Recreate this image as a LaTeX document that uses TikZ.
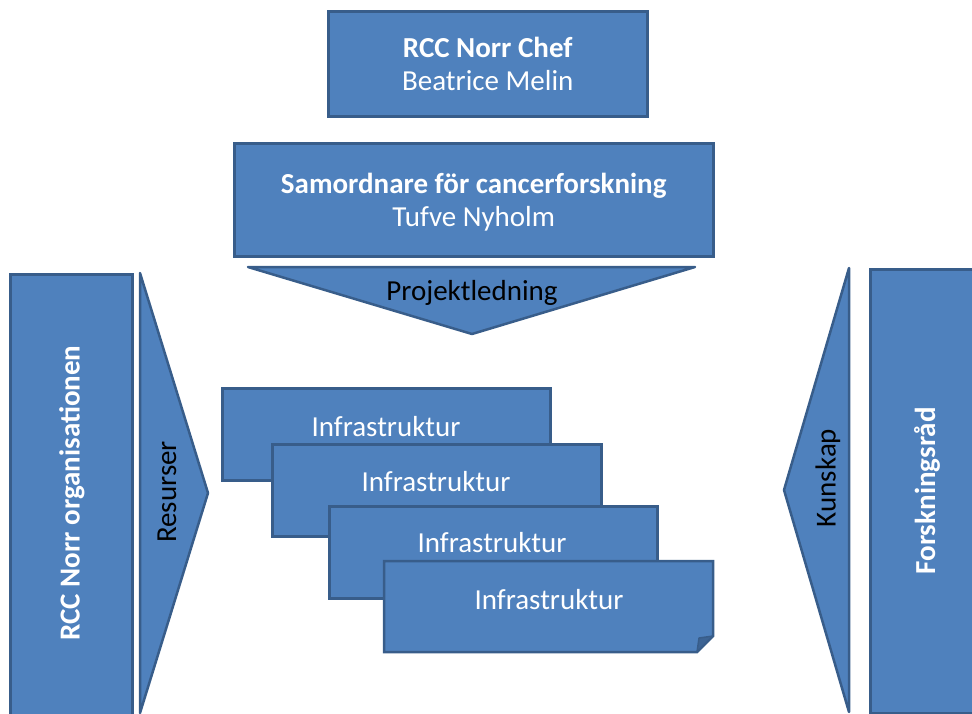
\documentclass[tikz,border=0pt]{standalone}
\usepackage{fontspec}
\setmainfont{Carlito}
\definecolor{fillblue}{HTML}{4F81BD}
\definecolor{edgeblue}{HTML}{385D8A}
\tikzset{
  blk/.style={draw=edgeblue, fill=fillblue, line width=2.5pt, inner sep=0pt, anchor=north west},
  shp/.style={draw=edgeblue, fill=fillblue, line width=2.5pt, line join=round},
  wtxt/.style={text=white, inner sep=0pt, align=center, font=\fontsize{29}{33}\selectfont},
  btxt/.style={text=black, inner sep=0pt, align=center, font=\fontsize{29}{33}\selectfont},
}
\begin{document}
\begin{tikzpicture}[x=1pt,y=-1pt]
\useasboundingbox (0,0) rectangle (972,713);
% top boxes
\node[blk, minimum width=319pt, minimum height=105pt] (chef) at (327,10) {};
\node[wtxt] (cheftxt) at (chef.center) {\textbf{RCC Norr Chef}\\Beatrice Melin};
\node[blk, minimum width=479pt, minimum height=113pt] (samo) at (233,142) {};
\node[wtxt] (samotxt) at ([yshift=-2pt]samo.center) {\textbf{Samordnare för cancerforskning}\\Tufve Nyholm};
% Projektledning triangle
\coordinate (pl1) at (248,267);
\coordinate (pl2) at (695,267);
\coordinate (pl3) at (472,334);
\draw[shp] (pl1) -- (pl2) -- (pl3) -- cycle;
\node[btxt] (proj) at (472,293) {Projektledning};
% left column
\node[blk, minimum width=122pt, minimum height=443pt] (rcc) at (9,273) {};
\node[wtxt, rotate=90] (rcctxt) at (72,493) {\textbf{RCC Norr organisationen}};
\coordinate (rs1) at (140,273);
\coordinate (rs2) at (208,493);
\coordinate (rs3) at (140,713);
\draw[shp] (rs1) -- (rs2) -- (rs3) -- cycle;
\node[btxt, rotate=90] (resurser) at (167,492) {Resurser};
% right column
\node[blk, minimum width=106pt, minimum height=444pt] (forsk) at (869,268) {};
\node[wtxt, rotate=90] (forsktxt) at (927,491) {\textbf{Forskningsråd}};
\coordinate (ks1) at (849,268);
\coordinate (ks2) at (784,490);
\coordinate (ks3) at (849,712);
\draw[shp] (ks1) -- (ks2) -- (ks3) -- cycle;
\node[btxt, rotate=90] (kunskap) at (828,478) {Kunskap};
% Infrastruktur stack
\node[blk, minimum width=328pt, minimum height=92pt] (infa) at (221,387) {};
\node[wtxt] (infatxt) at (386,427) {Infrastruktur};
\node[blk, minimum width=329pt, minimum height=92pt] (infb) at (271,443) {};
\node[wtxt] (infbtxt) at (436,482) {Infrastruktur};
\node[blk, minimum width=328pt, minimum height=92pt] (infc) at (328,505) {};
\node[wtxt] (infctxt) at (492,543) {Infrastruktur};
\coordinate (d1) at (384,561);
\coordinate (d2) at (713,561);
\coordinate (d3) at (713,636);
\coordinate (d4) at (697,652);
\coordinate (d5) at (384,652);
\coordinate (df) at (699,638);
\draw[shp, line join=miter] (d1) -- (d2) -- (d3) -- (d4) -- (d5) -- cycle;
\draw[draw=edgeblue, fill=edgeblue!80!fillblue, line width=1.5pt, line join=round] (d3) -- (df) -- (d4) -- cycle;
\node[wtxt] (infdtxt) at (549,600) {Infrastruktur};
\end{tikzpicture}
\end{document}
